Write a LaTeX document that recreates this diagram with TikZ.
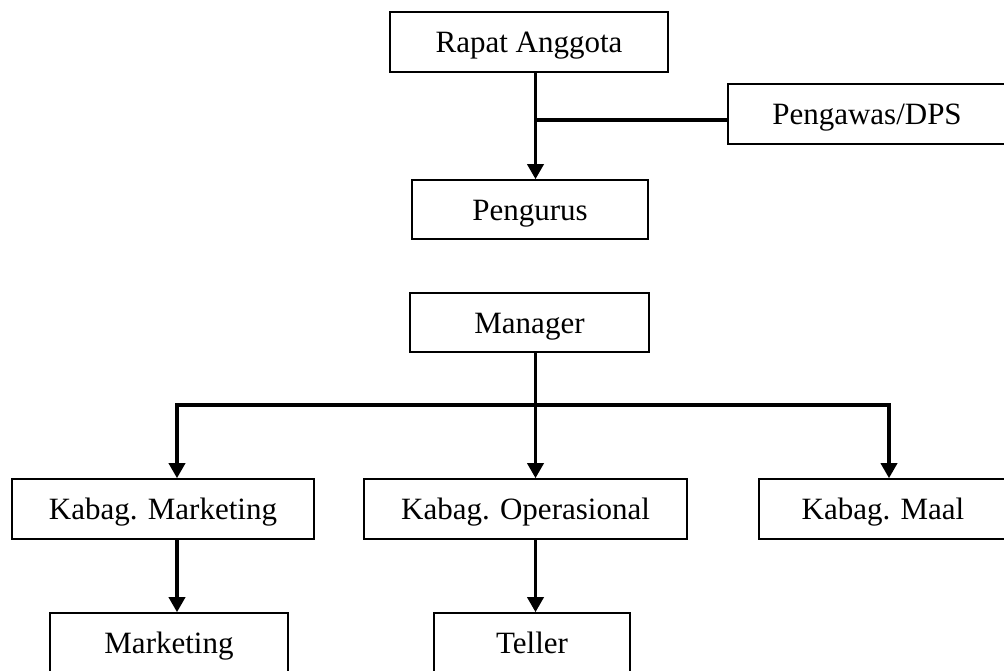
\documentclass[tikz,border=0pt]{standalone}
\usepackage{fontspec}
\setmainfont{Liberation Serif}
\usetikzlibrary{arrows.meta}
\begin{document}
\begin{tikzpicture}[x=1pt,y=-1pt,
  box/.style={draw=black,line width=1.6pt,rectangle,inner sep=0pt,minimum height=60pt,
    text height=28pt,text depth=7pt,
    font=\fontsize{31}{36}\selectfont},
  conn/.style={line width=3.5pt},
  arr/.style={line width=3.5pt,-{Triangle[width=16pt,length=15pt]}}]
\useasboundingbox (0,0) rectangle (1004,670);
\clip (0,0) rectangle (1004,670);
\node[box,minimum width=278pt] (ra) at (529,42) {Rapat Anggota};
\node[box,minimum width=278pt] (pw) at (867,114) {Pengawas/DPS};
\node[box,minimum width=236pt,minimum height=59pt] (pg) at (530,209.5) {Pengurus};
\node[box,minimum width=239pt,minimum height=59pt] (mg) at (529.5,322.5) {Manager};
\node[box,minimum width=302pt] (km) at (163,509) {Kabag. Marketing};
\node[box,minimum width=323pt] (ko) at (525.5,509) {Kabag. Operasional};
\node[box,minimum width=248pt] (kl) at (883,509) {Kabag. Maal};
\node[box,minimum width=238pt] (mk) at (169,643) {Marketing};
\node[box,minimum width=196pt] (tl) at (532,643) {Teller};
\coordinate (cx) at (535.5,120);
\coordinate (lx) at (177,405);
\coordinate (mx) at (535.5,405);
\coordinate (rx) at (889,405);
\draw[arr] (cx |- ra.south) -- (cx |- pg.north);
\draw[conn] (cx) -- (cx -| pw.west);
\draw[arr] (mx |- mg.south) -- (mx |- ko.north);
\draw[conn,line cap=rect] (lx) -- (rx);
\draw[arr] (lx) -- (lx |- km.north);
\draw[arr] (rx) -- (rx |- kl.north);
\draw[arr] (lx |- km.south) -- (lx |- mk.north);
\draw[arr] (mx |- ko.south) -- (mx |- tl.north);
\end{tikzpicture}
\end{document}
